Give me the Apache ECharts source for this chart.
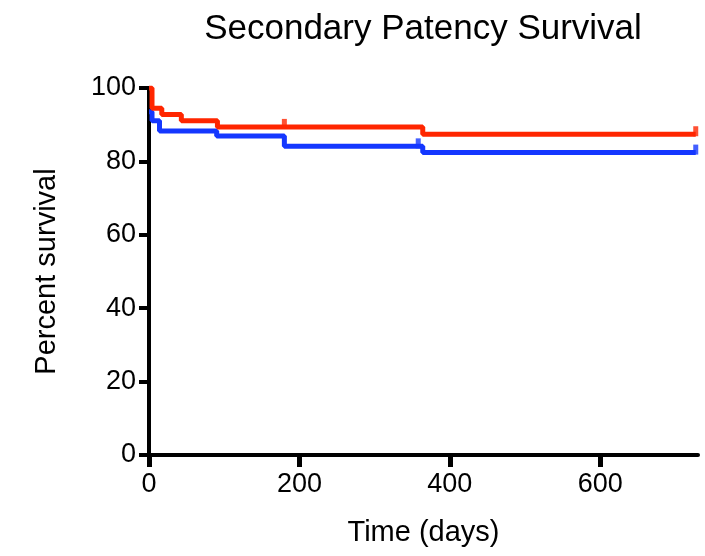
<!DOCTYPE html>
<html>
<head>
<meta charset="utf-8">
<script src="https://cdn.jsdelivr.net/npm/echarts@6/dist/echarts.min.js"></script>
<style>html,body{margin:0;padding:0;background:#fff;}#c{width:705px;height:556px;}</style>
</head>
<body>
<div id="c"></div>
<script>
var redTimes = [0, 4, 17, 43, 91, 364, 727];
var redValues = [100, 94.5, 92.8, 91.1, 89.4, 87.4, 87.4];
var blueTimes = [0, 4, 14, 90, 180, 364, 727];
var blueValues = [93.5, 91.1, 88.3, 86.9, 84.1, 82.4, 82.4];
var redCensorTimes = [180, 727];
var redCensorValues = [89.4, 87.4];
var blueCensorTimes = [358, 727];
var blueCensorValues = [84.1, 82.4];

function pairs(xs, ys) { return xs.map(function (x, i) { return [x, ys[i]]; }); }

var RED = '#ff2600', BLUE = '#1437ff';
var font = 'Liberation Sans, Arial, Helvetica, sans-serif';
var chart = echarts.init(document.getElementById('c'));
chart.setOption({
  animation: false,
  backgroundColor: '#fff',
  title: {
    text: 'Secondary Patency Survival', left: 418, top: 7, textAlign: 'center',
    textStyle: { fontFamily: font, fontSize: 35, fontWeight: 'normal', color: '#000' }
  },
  grid: { left: 149, right: 7, top: 88, bottom: 101 },
  xAxis: {
    type: 'value', min: 0, max: 730, interval: 200, position: 'bottom',
    name: 'Time (days)', nameLocation: 'middle', nameGap: 63,
    nameTextStyle: { fontFamily: font, fontSize: 29, color: '#000' },
    axisLine: { show: true, onZero: false, lineStyle: { color: '#000', width: 4 } },
    axisTick: { show: true, inside: false, length: 12, lineStyle: { color: '#000', width: 5 } },
    axisLabel: { fontFamily: font, fontSize: 27, color: '#000', margin: 16, showMaxLabel: false },
    splitLine: { show: false }
  },
  yAxis: {
    type: 'value', min: 0, max: 100, interval: 20,
    name: 'Percent survival', nameLocation: 'middle', nameGap: 88, nameRotate: 90,
    nameTextStyle: { fontFamily: font, fontSize: 29, color: '#000' },
    axisLine: { show: true, onZero: false, lineStyle: { color: '#000', width: 4 } },
    axisTick: { show: true, inside: false, length: 10, lineStyle: { color: '#000', width: 4 } },
    axisLabel: { fontFamily: font, fontSize: 27, color: '#000', margin: 13 },
    splitLine: { show: false }
  },
  series: [
    { type: 'line', step: 'end', data: pairs(blueTimes, blueValues), showSymbol: false,
      lineStyle: { color: BLUE, width: 5 }, z: 3 },
    { type: 'line', step: 'end', data: pairs(redTimes, redValues), showSymbol: false,
      lineStyle: { color: RED, width: 5 }, z: 4 },
    { type: 'scatter', data: pairs(blueCensorTimes, blueCensorValues), symbol: 'rect',
      symbolSize: [5, 10], symbolOffset: [0, -3], itemStyle: { color: BLUE }, z: 3 },
    { type: 'scatter', data: pairs(redCensorTimes, redCensorValues), symbol: 'rect',
      symbolSize: [5, 10], symbolOffset: [0, -3], itemStyle: { color: RED }, z: 4 }
  ]
});
</script>
</body>
</html>
